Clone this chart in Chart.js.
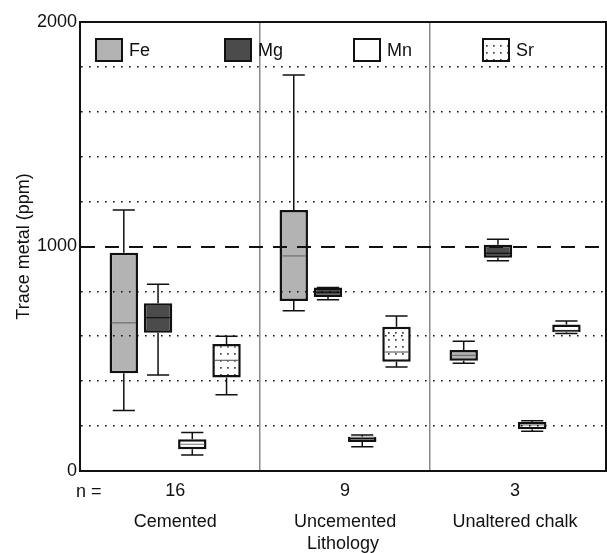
<!DOCTYPE html>
<html>
<head>
<meta charset="utf-8">
<script src="https://cdn.jsdelivr.net/npm/chart.js@4.4.1/dist/chart.umd.min.js"></script>
<style>
  html, body { margin: 0; padding: 0; background: #fff; }
</style>
</head>
<body>
<canvas id="chart" width="607" height="553"></canvas>
<script>
const categories = ['Cemented', 'Uncemented', 'Unaltered chalk'];
const sampleCounts = ['16', '9', '3'];
const metals = ['Fe', 'Mg', 'Mn', 'Sr'];
const yTickLabels = [0, 1000, 2000];

// box stats per lithology: [min, q1, median, q3, max] in ppm
const feStats = [[269, 435, 660, 972, 1163], [714, 757, 958, 1163, 1764], [480, 491, 515, 539, 578]];
const mgStats = [[428, 616, 683, 747, 832], [763, 775, 796, 817, 817], [937, 950, 970, 1008, 1032]];
const mnStats = [[71, 97, 119, 141, 171], [108, 129, 150, 153, 160], [177, 186, 205, 218, 224]];
const srStats = [[340, 417, 493, 566, 600], [463, 487, 530, 643, 690], [613, 618, 622, 653, 668]];

const FONT = "'Liberation Sans', Arial, sans-serif";
Chart.defaults.font.family = FONT;
Chart.defaults.color = '#111';

function dotPattern() {
    var c = document.createElement('canvas');
    c.width = 7; c.height = 7;
    var g = c.getContext('2d');
    g.fillStyle = '#fff';
    g.fillRect(0, 0, 7, 7);
    g.fillStyle = '#444';
    g.fillRect(3, 3, 1.7, 1.7);
    return document.getElementById('chart').getContext('2d').createPattern(c, 'repeat');
}

const seriesStats = [feStats, mgStats, mnStats, srStats];
const fills = ['#b3b3b3', '#4b4b4b', '#ffffff', dotPattern()];
const medianColors = ['#6e6e6e', '#111111', '#888888', '#666666'];

// whiskers + medians on top of the floating bars
const boxPlugin = {
    id: 'boxes',
    afterDatasetsDraw(chart) {
        var ctx = chart.ctx, y = chart.scales.y;
        chart.data.datasets.forEach((ds, i) => {
            chart.getDatasetMeta(i).data.forEach((bar, j) => {
                var s = ds.stats[j];
                var half = bar.width / 2, cap = bar.width * 0.39;
                ctx.save();
                ctx.strokeStyle = '#111';
                ctx.lineWidth = 1.5;
                ctx.beginPath();
                ctx.moveTo(bar.x, y.getPixelForValue(s[4]));
                ctx.lineTo(bar.x, y.getPixelForValue(s[3]));
                ctx.moveTo(bar.x, y.getPixelForValue(s[1]));
                ctx.lineTo(bar.x, y.getPixelForValue(s[0]));
                ctx.moveTo(bar.x - cap, y.getPixelForValue(s[4]));
                ctx.lineTo(bar.x + cap, y.getPixelForValue(s[4]));
                ctx.moveTo(bar.x - cap, y.getPixelForValue(s[0]));
                ctx.lineTo(bar.x + cap, y.getPixelForValue(s[0]));
                ctx.stroke();
                ctx.strokeStyle = ds.medianColor;
                ctx.lineWidth = 1.2;
                ctx.beginPath();
                ctx.moveTo(bar.x - half + 2, y.getPixelForValue(s[2]));
                ctx.lineTo(bar.x + half - 2, y.getPixelForValue(s[2]));
                ctx.stroke();
                ctx.restore();
            });
        });
    }
};

// frame, in-plot legend and "n =" label
const framePlugin = {
    id: 'frame',
    afterDraw(chart) {
        var ctx = chart.ctx, a = chart.chartArea;
        ctx.save();
        ctx.strokeStyle = '#111';
        ctx.lineWidth = 2;
        ctx.strokeRect(a.left, a.top, a.right - a.left, a.bottom - a.top);

        chart.data.datasets.forEach((ds, i) => {
            var x = a.left + 16 + i * 129, top = a.top + 17;
            ctx.fillStyle = ds.backgroundColor;
            ctx.fillRect(x, top, 26, 22);
            ctx.lineWidth = 2;
            ctx.strokeRect(x, top, 26, 22);
            ctx.fillStyle = '#111';
            ctx.font = '18px ' + FONT;
            ctx.textAlign = 'left';
            ctx.textBaseline = 'middle';
            ctx.fillText(ds.label, x + 33, top + 12);
        });

        ctx.font = '18px ' + FONT;
        ctx.textAlign = 'left';
        ctx.textBaseline = 'middle';
        ctx.fillStyle = '#111';
        ctx.fillText('n =', a.left - 4, a.bottom + 21);
        ctx.restore();
    }
};

var chart = new Chart(document.getElementById('chart'), {
    type: 'bar',
    data: {
        datasets: metals.map((m, i) => ({
            label: m,
            stats: seriesStats[i],
            data: seriesStats[i].map((s, j) => ({ x: j, y: [s[1], s[3]] })),
            backgroundColor: fills[i],
            borderColor: '#111',
            borderWidth: 2.5,
            borderSkipped: false,
            medianColor: medianColors[i],
            categoryPercentage: 0.806,
            barPercentage: 0.83
        }))
    },
    options: {
        responsive: false,
        animation: false,
        devicePixelRatio: 1,
        layout: { padding: { top: 22, right: 1, left: 0, bottom: 0 } },
        plugins: { legend: { display: false }, tooltip: { enabled: false } },
        scales: {
            x: {
                type: 'linear',
                offset: false,
                min: -0.56,
                max: 2.535,
                afterBuildTicks: scale => { scale.ticks = categories.map((c, i) => ({ value: i })); },
                afterFit: scale => { scale.height = 82; },
                grid: {
                    offset: true,
                    drawTicks: false,
                    color: c => (c.index === 1 || c.index === 2) ? '#8a8a8a' : 'rgba(0,0,0,0)',
                    lineWidth: 1.5
                },
                border: { color: '#111', width: 2 },
                ticks: {
                    padding: 5,
                    autoSkip: false,
                    maxRotation: 0,
                    font: { size: 18, lineHeight: 31 / 18 },
                    callback: v => [sampleCounts[v], categories[v]]
                },
                title: { display: true, text: 'Lithology', font: { size: 18, lineHeight: 1 }, padding: 0 }
            },
            y: {
                min: 0,
                max: 2000,
                afterFit: scale => { scale.width = 80; },
                grid: {
                    z: 1,
                    drawTicks: false,
                    color: c => (c.tick && (c.tick.value === 0 || c.tick.value === 2000)) ? 'rgba(0,0,0,0)' : '#111',
                    lineWidth: c => (c.tick && c.tick.value === 1000) ? 2 : 1.6
                },
                border: {
                    z: 1,
                    color: '#111',
                    width: 2,
                    dash: c => c.tick ? (c.tick.value === 1000 ? [14, 10] : [1.6, 6.4]) : []
                },
                ticks: {
                    stepSize: 200,
                    padding: 3,
                    autoSkip: false,
                    font: { size: 18 },
                    callback: v => yTickLabels.includes(v) ? String(v) : ''
                },
                title: { display: true, text: 'Trace metal (ppm)', font: { size: 18 }, padding: { top: 13, bottom: 0 } }
            }
        }
    },
    plugins: [boxPlugin, framePlugin]
});
</script>
</body>
</html>
